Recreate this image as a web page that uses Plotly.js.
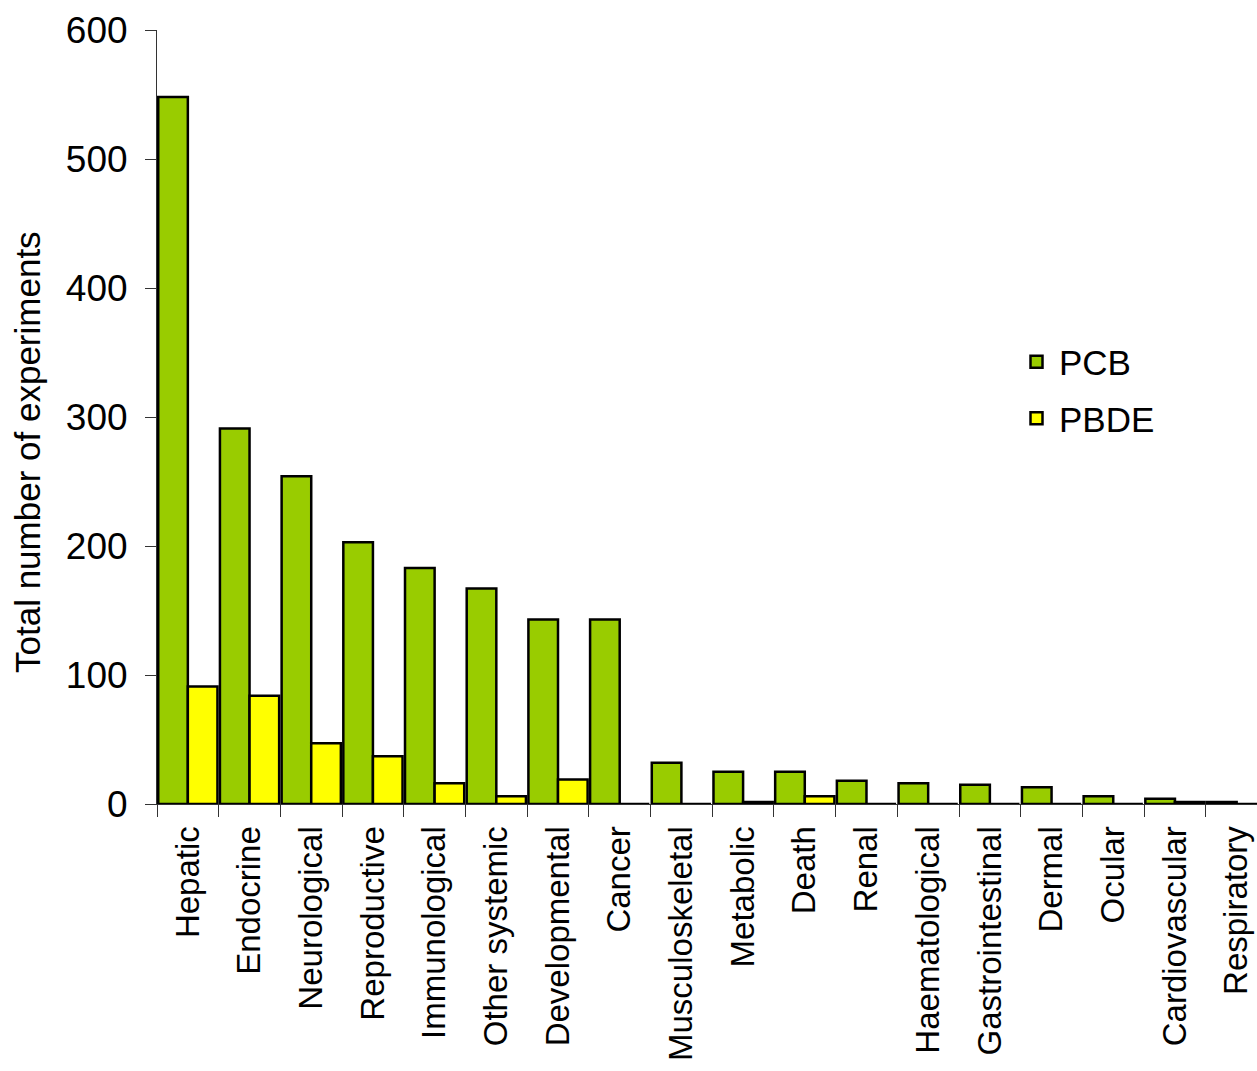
<!DOCTYPE html>
<html>
<head>
<meta charset="utf-8">
<script src="https://cdn.plot.ly/plotly-3.0.1.min.js"></script>
<style>html,body{margin:0;padding:0;background:#fff;}#chart{width:1257px;height:1071px;}</style>
</head>
<body>
<div id="chart"></div>
<script>
const categories = ["Hepatic","Endocrine","Neurological","Reproductive","Immunological","Other systemic","Developmental","Cancer","Musculoskeletal","Metabolic","Death","Renal","Haematological","Gastrointestinal","Dermal","Ocular","Cardiovascular","Respiratory"];
const pcbValues  = [548, 291, 254, 203, 183, 167, 143, 143, 32, 25, 25, 18, 16, 15, 13, 6, 4, 1.5];
const pbdeValues = [91, 84, 47, 37, 16, 6, 19, 0, 0, 1.5, 6, 0, 0, 0, 0, 0, 1.5, 0];
const yTicks = [0, 100, 200, 300, 400, 500, 600];
const yTitle = "Total number of experiments";

const FONT = "Liberation Sans, Arial, sans-serif";

const traces = [
  {type: "bar", name: "PCB", x: categories, y: pcbValues, legendgroup: "a",
   marker: {color: "#99CC00", line: {color: "#000000", width: 2.5}}},
  {type: "bar", name: "PBDE", x: categories, y: pbdeValues, legendgroup: "b",
   marker: {color: "#FFFF00", line: {color: "#000000", width: 2.5}}}
];

const layout = {
  width: 1257, height: 1071,
  margin: {l: 157, r: 0, t: 30, b: 267},
  paper_bgcolor: "#ffffff", plot_bgcolor: "#ffffff",
  font: {family: FONT, size: 32, color: "#000000"},
  barmode: "group", bargap: 0.04, bargroupgap: 0,
  showlegend: true,
  legend: {x: (1014 - 157) / 1100, xref: "paper", y: 0.535, yref: "paper", traceorder: "grouped", tracegroupgap: 8,
           itemwidth: 35,
           font: {family: FONT, size: 35}, bgcolor: "rgba(0,0,0,0)"},
  xaxis: {
    type: "category", range: [-0.5, 17.33],
    showline: true, linecolor: "#333", linewidth: 1,
    ticks: "outside", ticklen: 12, tickcolor: "#333", tickson: "boundaries",
    tickangle: -90, tickfont: {family: FONT, size: 33}, ticklabelstandoff: 8,
    showgrid: false, zeroline: false, fixedrange: true
  },
  yaxis: {
    range: [0, 600], tickvals: yTicks, ticktext: yTicks.map(String),
    showline: true, linecolor: "#333", linewidth: 1,
    ticks: "outside", ticklen: 11, tickcolor: "#333",
    tickfont: {family: FONT, size: 37}, ticklabelstandoff: 10,
    showgrid: false, zeroline: false
  },
  annotations: [{
    text: yTitle, textangle: -90, showarrow: false,
    xref: "paper", yref: "paper", x: (28 - 157) / 1100, y: (804 - 452) / 774,
    xanchor: "center", yanchor: "middle",
    font: {family: FONT, size: 35, color: "#000000"}
  }]
};

Plotly.newPlot("chart", traces, layout, {displayModeBar: false, staticPlot: true});
</script>
</body>
</html>
